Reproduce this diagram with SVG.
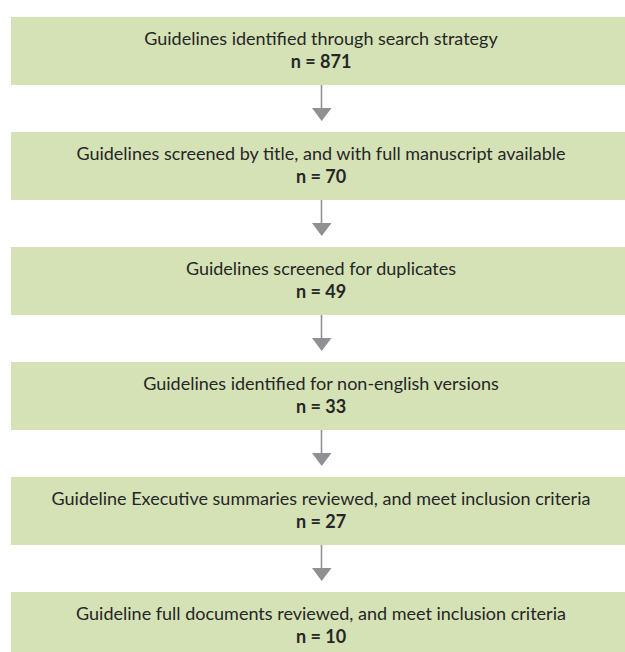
<svg xmlns="http://www.w3.org/2000/svg" width="625" height="652" viewBox="0 0 625 652">
<defs>
<style>
.box{fill:#d4e2b6;}
.t{font-family:Lato,"Liberation Sans",sans-serif;font-size:18px;fill:#262626;text-anchor:middle;}
.b{font-weight:bold;}
.ln{stroke:#8f9094;stroke-width:1.6;fill:none;}
.hd{fill:#8f9094;}
</style>
</defs>
<rect width="625" height="652" fill="#ffffff"/>
<g id="node1"><rect class="box" x="11" y="17" width="620" height="68"/><text class="t" x="321" y="45">Guidelines identified through search strategy</text><text class="t b" x="321" y="68">n = 871</text></g>
<g id="node2"><rect class="box" x="11" y="132" width="620" height="68"/><text class="t" x="321" y="160">Guidelines screened by title, and with full manuscript available</text><text class="t b" x="321" y="183">n = 70</text></g>
<g id="node3"><rect class="box" x="11" y="247" width="620" height="68"/><text class="t" x="321" y="275">Guidelines screened for duplicates</text><text class="t b" x="321" y="298">n = 49</text></g>
<g id="node4"><rect class="box" x="11" y="362" width="620" height="68"/><text class="t" x="321" y="390">Guidelines identified for non-english versions</text><text class="t b" x="321" y="413">n = 33</text></g>
<g id="node5"><rect class="box" x="11" y="477" width="620" height="68"/><text class="t" x="321" y="505">Guideline Executive summaries reviewed, and meet inclusion criteria</text><text class="t b" x="321" y="528">n = 27</text></g>
<g id="node6"><rect class="box" x="11" y="592" width="620" height="68"/><text class="t" x="321" y="620">Guideline full documents reviewed, and meet inclusion criteria</text><text class="t b" x="321" y="643">n = 10</text></g>
<g id="connectors">
<path class="ln" d="M321.5 85V109"/><path class="hd" d="M312 108H331.5L321.7 121Z"/>
<path class="ln" d="M321.5 200V224"/><path class="hd" d="M312 223H331.5L321.7 236Z"/>
<path class="ln" d="M321.5 315V339"/><path class="hd" d="M312 338H331.5L321.7 351Z"/>
<path class="ln" d="M321.5 430V454"/><path class="hd" d="M312 453H331.5L321.7 466Z"/>
<path class="ln" d="M321.5 545V569"/><path class="hd" d="M312 568H331.5L321.7 581Z"/>
</g>
</svg>
